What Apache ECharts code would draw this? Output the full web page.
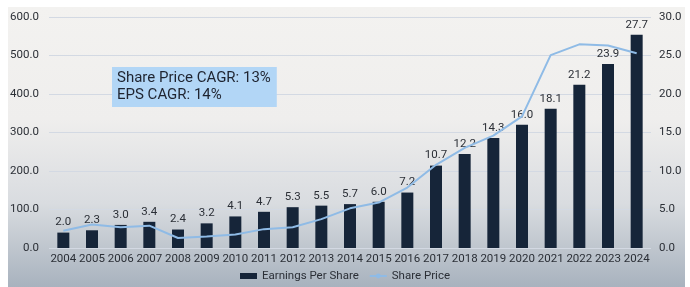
<!DOCTYPE html>
<html>
<head>
<meta charset="utf-8">
<script src="https://cdn.jsdelivr.net/npm/echarts@6/dist/echarts.min.js"></script>
<style>
  html, body { margin: 0; padding: 0; background: #ffffff; }
  #panel {
    position: absolute; left: 8px; top: 7px; width: 677px; height: 280px;
    background: linear-gradient(to bottom, #f3f2f0 0%, #efeeed 40%, #d9dce0 70%, #a8b2be 100%);
  }
  #chart { position: absolute; left: 0; top: 0; width: 690px; height: 287px; }
</style>
</head>
<body>
<div id="panel"></div>
<div id="chart"></div>
<script>
const years = ['2004', '2005', '2006', '2007', '2008', '2009', '2010', '2011', '2012', '2013', '2014',
  '2015', '2016', '2017', '2018', '2019', '2020', '2021', '2022', '2023', '2024'];

// EPS (right axis)
const eps = [2.0, 2.3, 3.0, 3.4, 2.4, 3.2, 4.1, 4.7, 5.3, 5.5, 5.7, 6.0, 7.2, 10.7, 12.2, 14.3, 16.0, 18.1, 21.2, 23.9, 27.7];

// share price (left axis)
const price = [45, 61, 54, 58, 26, 30, 35, 49, 54, 75, 103, 118, 157, 216, 260, 292, 342, 501, 529, 526, 506];

const leftTicks = { min: 0, max: 600, interval: 100 };
const rightTicks = { min: 0, max: 30, interval: 5 };

const chart = echarts.init(document.getElementById('chart'));

const font = 'Roboto';
const textStyle = { fontFamily: font, color: '#2b2f36', fontSize: 11.5 };

chart.setOption({
  backgroundColor: 'transparent',
  animation: false,
  textStyle: { fontFamily: font },
  grid: { left: 49, right: 39, top: 17, bottom: 39 },
  legend: {
    bottom: 0,
    left: 'center',
    itemGap: 10,
    itemWidth: 17,
    itemHeight: 6,
    textStyle: { fontFamily: font, color: '#2b2f36', fontSize: 11.5 },
    data: [
      { name: 'Earnings Per Share', icon: 'rect' },
      { name: 'Share Price' }
    ]
  },
  xAxis: {
    type: 'category',
    data: years,
    axisLine: { show: false },
    axisTick: { show: false },
    axisLabel: Object.assign({ margin: 5, interval: 0 }, textStyle)
  },
  yAxis: [
    {
      type: 'value',
      min: leftTicks.min, max: leftTicks.max, interval: leftTicks.interval,
      axisLabel: Object.assign({ formatter: v => v.toFixed(1), margin: 10 }, textStyle),
      splitLine: { lineStyle: { color: '#d3d9e3', width: 1 } }
    },
    {
      type: 'value',
      min: rightTicks.min, max: rightTicks.max, interval: rightTicks.interval,
      axisLabel: Object.assign({ formatter: v => v.toFixed(1), margin: 8 }, textStyle),
      splitLine: { show: false }
    }
  ],
  graphic: [{
    type: 'text',
    left: 112,
    top: 67,
    z: 100,
    style: {
      text: 'Share Price CAGR: 13%\nEPS CAGR: 14%',
      fontFamily: font,
      fontSize: 15,
      lineHeight: 17,
      fill: '#1f2430',
      backgroundColor: '#b2d6f6',
      padding: [3, 6, 3, 5]
    }
  }],
  series: [
    {
      name: 'Earnings Per Share',
      type: 'bar',
      yAxisIndex: 1,
      data: eps,
      barWidth: 12,
      itemStyle: { color: '#162539' },
      label: {
        show: true,
        position: 'top',
        distance: 4,
        formatter: p => p.value.toFixed(1),
        fontFamily: font,
        fontSize: 11.5,
        color: '#2b2f36'
      }
    },
    {
      name: 'Share Price',
      type: 'line',
      yAxisIndex: 0,
      data: price,
      symbol: 'none',
      lineStyle: { color: '#8fbbe6', width: 2 },
      itemStyle: { color: '#8fbbe6' }
    }
  ]
});
</script>
</body>
</html>
